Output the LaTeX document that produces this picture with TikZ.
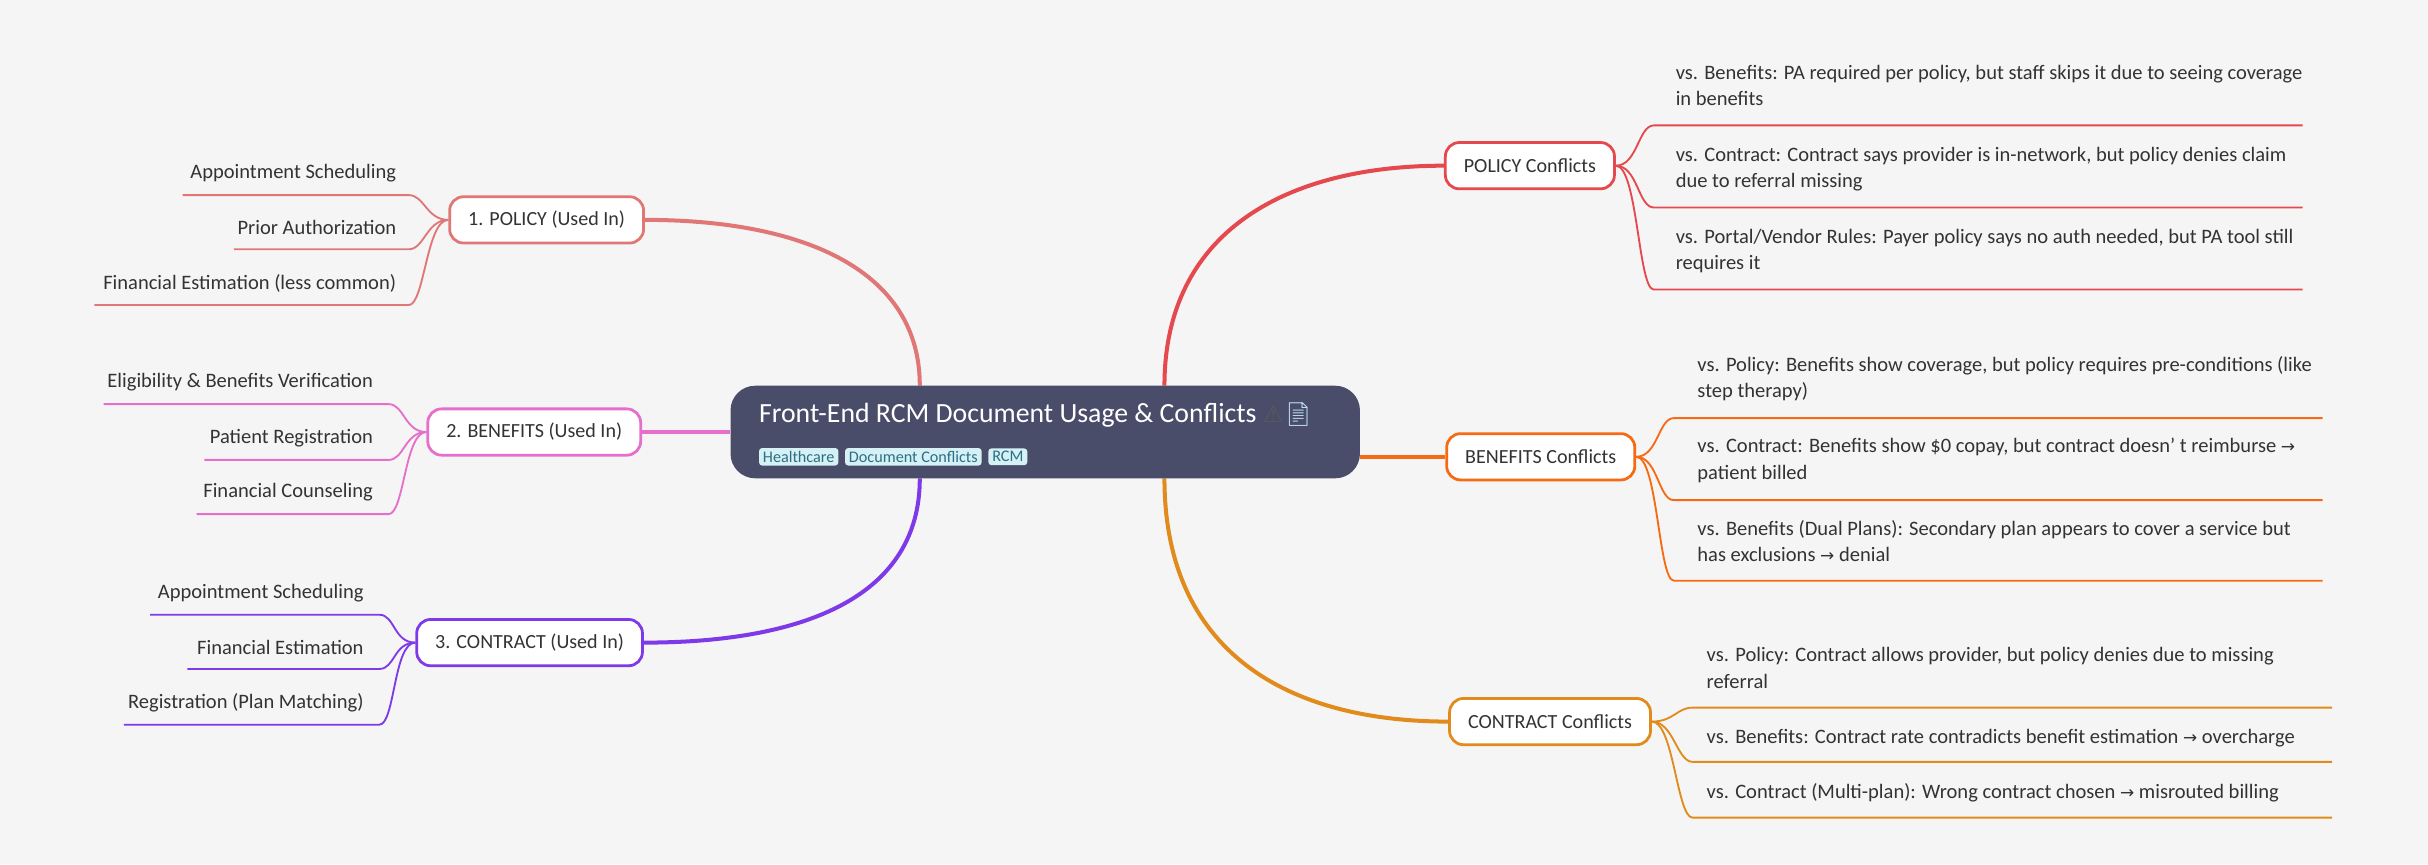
\documentclass[tikz,border=0pt]{standalone}
\usepackage{fontspec}
\setmainfont{Carlito}
\newfontfamily\emojifont{Noto Emoji}
\newfontfamily\symfont{DejaVu Sans}
\usetikzlibrary{backgrounds}
\definecolor{bg}{HTML}{F5F5F5}
\definecolor{txt}{HTML}{333333}
\definecolor{ctr}{HTML}{4A4D6A}
\definecolor{tagf}{HTML}{D5F1F6}
\definecolor{tagt}{HTML}{2B6F85}
\definecolor{ca}{HTML}{E07676}
\definecolor{cb}{HTML}{E56FCB}
\definecolor{cc}{HTML}{7E3AE8}
\definecolor{cd}{HTML}{E5484D}
\definecolor{ce}{HTML}{F56A12}
\definecolor{cf}{HTML}{E08B1C}
\newcommand{\rarr}{{\symfont\fontsize{11}{17}\selectfont→}}
\tikzset{
  box/.style={draw=#1, line width=1.8pt, fill=white, rounded corners=9, minimum height=30, inner xsep=12, inner ysep=0, font=\fontsize{13}{16}\selectfont, text=txt},
  leaf/.style={inner sep=0, font=\fontsize{13.3}{17}\selectfont, text=txt},
  rleaf/.style={leaf, anchor=north west, align=left},
  br/.style={draw=#1, line width=2.6pt},
  lf/.style={draw=#1, line width=1.2pt},
  tag/.style={fill=tagf, text=tagt, rounded corners=2, inner xsep=2.5, inner ysep=2, font=\fontsize{10.5}{12}\selectfont}
}
\begin{document}
\begin{tikzpicture}[x=1bp,y=-1bp]
\useasboundingbox (0,0) rectangle (1568,558);
% centre
\node[fill=ctr, rounded corners=16, minimum width=408, minimum height=60, inner sep=0] (c) at (675,279) {};
\node[anchor=west, inner sep=0, text=white, font=\fontsize{18}{20}\selectfont] (ct) at (490,268) {Front-End RCM Document Usage \& Conflicts\ {\symfont\fontsize{15}{18}\selectfont\color{black!65}⚠}{\emojifont\fontsize{15}{18}\selectfont\color{white!80!cyan}📄}};
\node[tag, anchor=west] (t1) at (490,295) {Healthcare};
\node[tag, anchor=west] (t2) at (t1.east) [xshift=4] {Document Conflicts};
\node[tag, anchor=west] (t3) at (t2.east) [xshift=4] {RCM};
\coordinate (ctop1) at (594,249); \coordinate (cbot1) at (594,309);
\coordinate (ctop2) at (752,249); \coordinate (cbot2) at (752,309);
% left boxes
\node[box=ca] (p1) at (353,142) {1. POLICY (Used In)};
\node[box=cb] (p2) at (345,279) {2. BENEFITS (Used In)};
\node[box=cc] (p3) at (342,415) {3. CONTRACT (Used In)};
% right boxes
\node[box=cd] (q1) at (988,107) {POLICY Conflicts};
\node[box=ce] (q2) at (995,295) {BENEFITS Conflicts};
\node[box=cf] (q3) at (1001,466) {CONTRACT Conflicts};
% left leaves
\node[leaf, anchor=east] (a1) at (256,112) {Appointment Scheduling};
\node[leaf, anchor=east] (a2) at (256,147) {Prior Authorization};
\node[leaf, anchor=east] (a3) at (256,183) {Financial Estimation (less common)};
\node[leaf, anchor=east] (b1) at (241,247) {Eligibility \& Benefits Verification};
\node[leaf, anchor=east] (b2) at (241,283) {Patient Registration};
\node[leaf, anchor=east] (b3) at (241,318) {Financial Counseling};
\node[leaf, anchor=east] (d1) at (235,383) {Appointment Scheduling};
\node[leaf, anchor=east] (d2) at (235,418) {Financial Estimation};
\node[leaf, anchor=east] (d3) at (235,454) {Registration (Plan Matching)};
\coordinate (a1s) at (118,126); \coordinate (a1e) at (264,126);
\coordinate (a2s) at (151,161); \coordinate (a2e) at (264,161);
\coordinate (a3s) at (61,197);  \coordinate (a3e) at (264,197);
\coordinate (b1s) at (67,261);  \coordinate (b1e) at (251,261);
\coordinate (b2s) at (132,297); \coordinate (b2e) at (251,297);
\coordinate (b3s) at (127,332); \coordinate (b3e) at (251,332);
\coordinate (d1s) at (97,397);  \coordinate (d1e) at (245,397);
\coordinate (d2s) at (121,432); \coordinate (d2e) at (245,432);
\coordinate (d3s) at (80,468);  \coordinate (d3e) at (245,468);
% right leaves
\node[rleaf] (e1) at (1082,42) {vs. Benefits: PA required per policy, but staff skips it due to seeing coverage\\in benefits};
\node[rleaf] (e2) at (1082,95) {vs. Contract: Contract says provider is in-network, but policy denies claim\\due to referral missing};
\node[rleaf] (e3) at (1082,148) {vs. Portal/Vendor Rules: Payer policy says no auth needed, but PA tool still\\requires it};
\node[rleaf] (f1) at (1096,230) {vs. Policy: Benefits show coverage, but policy requires pre-conditions (like\\step therapy)};
\node[rleaf] (f2) at (1096,283) {vs. Contract: Benefits show \$0 copay, but contract doesn’\ t reimburse \rarr\\patient billed};
\node[rleaf] (f3) at (1096,336) {vs. Benefits (Dual Plans): Secondary plan appears to cover a service but\\has exclusions \rarr{} denial};
\node[rleaf] (g1) at (1102,418) {vs. Policy: Contract allows provider, but policy denies due to missing\\referral};
\node[rleaf] (g2) at (1102,471) {vs. Benefits: Contract rate contradicts benefit estimation \rarr{} overcharge};
\node[rleaf] (g3) at (1102,506) {vs. Contract (Multi-plan): Wrong contract chosen \rarr{} misrouted billing};
\coordinate (e1s) at (1068,81);  \coordinate (e1e) at (1487,81);
\coordinate (e2s) at (1068,134); \coordinate (e2e) at (1487,134);
\coordinate (e3s) at (1068,187); \coordinate (e3e) at (1487,187);
\coordinate (f1s) at (1081,270); \coordinate (f1e) at (1500,270);
\coordinate (f2s) at (1081,323); \coordinate (f2e) at (1500,323);
\coordinate (f3s) at (1081,375); \coordinate (f3e) at (1500,375);
\coordinate (g1s) at (1093,457); \coordinate (g1e) at (1506,457);
\coordinate (g2s) at (1093,492); \coordinate (g2e) at (1506,492);
\coordinate (g3s) at (1093,528); \coordinate (g3e) at (1506,528);
\begin{scope}[on background layer]
\fill[bg] (0,0) rectangle (1568,558);
\draw[br=ca] (ctop1) .. controls (594,175) and (520,142) .. (p1.east);
\draw[br=cb] (c.west |- p2) -- (p2.east);
\draw[br=cc] (cbot1) .. controls (594,385) and (520,415) .. (p3.east);
\draw[br=cd] (ctop2) .. controls (752,150) and (830,107) .. (q1.west);
\draw[br=ce] (c.east |- q2) -- (q2.west);
\draw[br=cf] (cbot2) .. controls (752,420) and (830,466) .. (q3.west);
\foreach \n/\p/\c in {a1/p1/ca,a2/p1/ca,a3/p1/ca,b1/p2/cb,b2/p2/cb,b3/p2/cb,d1/p3/cc,d2/p3/cc,d3/p3/cc}{
  \draw[lf=\c] (\p.west) .. controls +(-14,0) and +(10,0) .. (\n e) -- (\n s);
}
\foreach \n/\p/\c in {e1/q1/cd,e2/q1/cd,e3/q1/cd,f1/q2/ce,f2/q2/ce,f3/q2/ce,g1/q3/cf,g2/q3/cf,g3/q3/cf}{
  \draw[lf=\c] (\p.east) .. controls +(14,0) and +(-10,0) .. (\n s) -- (\n e);
}
\end{scope}
\end{tikzpicture}
\end{document}
